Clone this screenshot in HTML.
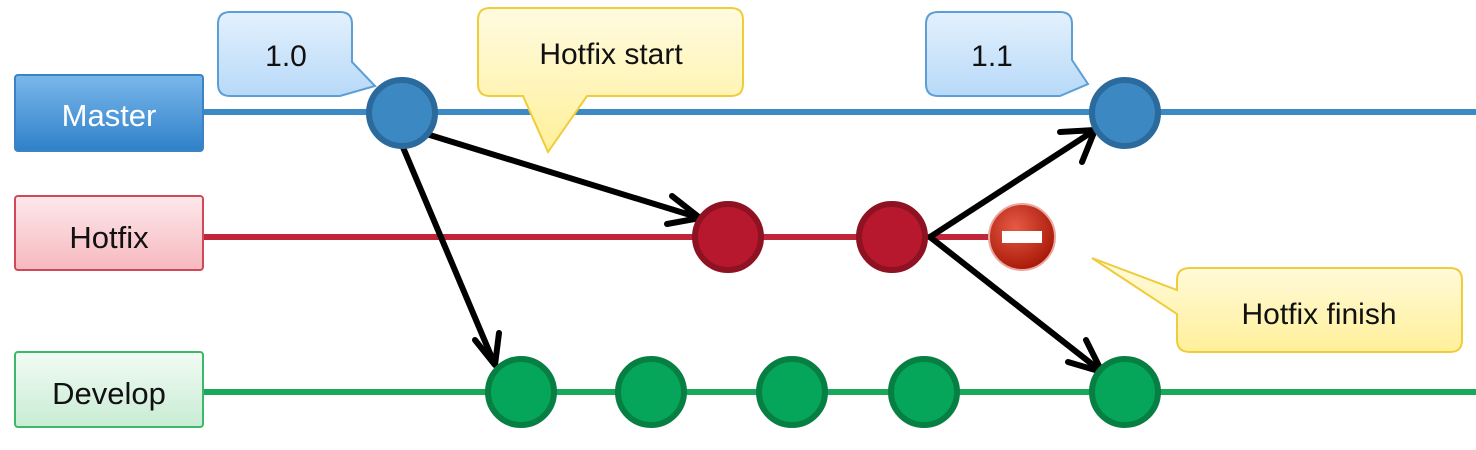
<!DOCTYPE html>
<html><head><meta charset="utf-8"><style>
html,body{margin:0;padding:0;background:#fff;}
svg{display:block;font-family:"Liberation Sans",sans-serif;}
</style></head><body>
<svg width="1476" height="450" viewBox="0 0 1476 450">
<defs>
<linearGradient id="gb" x1="0" y1="0" x2="0" y2="1"><stop offset="0" stop-color="#7ab8ec"/><stop offset="1" stop-color="#2f80c8"/></linearGradient>
<linearGradient id="gr" x1="0" y1="0" x2="0" y2="1"><stop offset="0" stop-color="#fde8ea"/><stop offset="1" stop-color="#f6b9bf"/></linearGradient>
<linearGradient id="gg" x1="0" y1="0" x2="0" y2="1"><stop offset="0" stop-color="#f2fbf4"/><stop offset="1" stop-color="#c8ecd3"/></linearGradient>
<linearGradient id="cb" x1="0" y1="0" x2="0" y2="1"><stop offset="0" stop-color="#e4f1fd"/><stop offset="1" stop-color="#b7d9f8"/></linearGradient>
<linearGradient id="cy" x1="0" y1="0" x2="0" y2="1"><stop offset="0" stop-color="#fffbe0"/><stop offset="1" stop-color="#fff09a"/></linearGradient>
<radialGradient id="stop" cx="0.4" cy="0.35" r="0.7"><stop offset="0" stop-color="#e65a45"/><stop offset="1" stop-color="#a51505"/></radialGradient>
</defs>

<line x1="203" y1="112" x2="1476" y2="112" stroke="#3d89c3" stroke-width="6"/>
<line x1="203" y1="237" x2="995" y2="237" stroke="#c0253a" stroke-width="6"/>
<line x1="203" y1="392" x2="1476" y2="392" stroke="#17a85a" stroke-width="6"/>

<g>
<rect x="15" y="75" width="188" height="76" rx="3" fill="url(#gb)" stroke="#3b83c2" stroke-width="2"/>
<text x="109" y="126" font-size="31" fill="#fff" text-anchor="middle">Master</text></g>
<g>
<rect x="15" y="196" width="188" height="74" rx="3" fill="url(#gr)" stroke="#d0485a" stroke-width="2"/>
<text x="109" y="248" font-size="31" fill="#111" text-anchor="middle">Hotfix</text></g>
<g>
<rect x="15" y="352" width="188" height="75" rx="3" fill="url(#gg)" stroke="#3cb868" stroke-width="2"/>
<text x="109" y="404" font-size="31" fill="#111" text-anchor="middle">Develop</text></g>

<g>
<path d="M230,12 H340 Q352,12 352,24 V62 L375,86 L340,96 H230 Q218,96 218,84 V24 Q218,12 230,12 Z" fill="url(#cb)" stroke="#5b9fd6" stroke-width="2"/>
<text x="286" y="66" font-size="30" fill="#111" text-anchor="middle">1.0</text></g>
<g>
<path d="M490,8 H731 Q743,8 743,20 V84 Q743,96 731,96 H587 L548,152 L523,96 H490 Q478,96 478,84 V20 Q478,8 490,8 Z" fill="url(#cy)" stroke="#f0cc3a" stroke-width="2"/>
<text x="611" y="64" font-size="30" fill="#111" text-anchor="middle">Hotfix start</text></g>
<g>
<path d="M938,12 H1060 Q1072,12 1072,24 V60 L1088,84 L1060,96 H938 Q926,96 926,84 V24 Q926,12 938,12 Z" fill="url(#cb)" stroke="#5b9fd6" stroke-width="2"/>
<text x="992" y="66" font-size="30" fill="#111" text-anchor="middle">1.1</text></g>
<g>
<path d="M1190,268 H1450 Q1462,268 1462,280 V340 Q1462,352 1450,352 H1190 Q1177,352 1177,340 V314 L1092,258 L1177,290 V280 Q1177,268 1190,268 Z" fill="url(#cy)" stroke="#f0cc3a" stroke-width="2"/>
<text x="1319" y="324" font-size="30" fill="#111" text-anchor="middle">Hotfix finish</text></g>

<g stroke="#000" stroke-width="6" fill="none" stroke-linecap="round" stroke-linejoin="round">
<path d="M420,132 L700,218 M672,196 L700,218 L667,224"/>
<path d="M402,145 L495,365 M475,340 L495,365 L499,333"/>
<path d="M930,237 L1095,130 M1060,132 L1095,130 L1082,162"/>
<path d="M930,237 L1102,372 M1086,340 L1102,372 L1068,362"/>
</g>

<g stroke-width="6">
<circle cx="402" cy="113" r="33" fill="#3c88c2" stroke="#2a6a9c"/>
<circle cx="1125" cy="113" r="33" fill="#3c88c2" stroke="#2a6a9c"/>
<circle cx="728" cy="237" r="33" fill="#b8182d" stroke="#8e1222"/>
<circle cx="892" cy="237" r="33" fill="#b8182d" stroke="#8e1222"/>
<circle cx="521" cy="392" r="33" fill="#05a55a" stroke="#077f43"/>
<circle cx="651" cy="392" r="33" fill="#05a55a" stroke="#077f43"/>
<circle cx="792" cy="392" r="33" fill="#05a55a" stroke="#077f43"/>
<circle cx="924" cy="392" r="33" fill="#05a55a" stroke="#077f43"/>
<circle cx="1125" cy="392" r="33" fill="#05a55a" stroke="#077f43"/>
</g>
<g>
<circle cx="1022" cy="237" r="33" fill="url(#stop)" stroke="#e9a79d" stroke-width="2"/>
<rect x="1002" y="231" width="40" height="12" fill="#fff"/></g>
</svg>
</body></html>
